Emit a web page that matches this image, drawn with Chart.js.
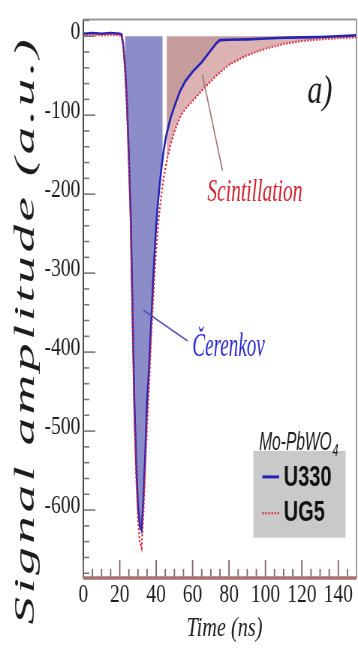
<!DOCTYPE html>
<html>
<head>
<meta charset="utf-8">
<script src="https://cdn.jsdelivr.net/npm/chart.js@4.4.1/dist/chart.umd.min.js"></script>
<style>
  html, body { margin: 0; padding: 0; background: #fff; overflow: hidden; }
  canvas { display: block; }
</style>
</head>
<body>
<!-- drawn on a wider canvas and shown condensed to 358 px -->
<canvas id="c" width="477" height="660" style="width:358px;height:660px"></canvas>
<script>
// Time axis (ns)
const times = [0, 5, 10, 15, 20, 21, 22, 23, 24, 25, 26, 27, 28, 29, 30, 31, 32, 33, 34, 35,
  36, 37, 38, 39, 40, 41, 42, 43, 44, 45, 46, 48, 50, 53, 56, 60, 65, 70, 73, 75,
  80, 90, 100, 110, 120, 130, 140, 150];

// Signal with the U330 filter (a.u.)
const u330 = [3, 4, 3, 4, 3, 2, -12, -42, -88, -152, -226, -345, -462, -540, -595, -620, -626, -585, -530, -463,
  -425, -376, -327, -280, -240, -210, -186, -165, -147, -132, -121, -103, -89, -70, -57, -45, -33, -18, -9, -5,
  -4.5, -4, -3, -2, -1.5, -1, 0, 1];

// Signal with the UG5 filter (a.u.)
const ug5 = [1, 2, 1, 2, 1, 0, -14, -45, -92, -158, -236, -356, -478, -558, -612, -640, -648, -606, -551, -496,
  -452, -396, -348, -307, -270, -240, -218, -198, -181, -168, -156, -136, -121, -103, -92, -82, -69, -57, -50, -46,
  -36, -24, -16, -10, -6, -4, -2.5, -1.5];

// Tick labels
const xTicks = [0, 20, 40, 60, 80, 100, 120, 140];
const yTicks = [0, -100, -200, -300, -400, -500, -600];

// Integration windows (ns)
const cerenkovWindow = [23, 43.5];
const scintWindow = [45.8, 150];

const SERIF = "'Liberation Serif', 'Times New Roman', serif";
const SANS = "'Liberation Sans', Arial, sans-serif";

function pts(ys) { return times.map((t, i) => ({ x: t, y: ys[i] })); }

function fillBetween(chart, win, upper, lower, color) {
  const ctx = chart.ctx, xs = chart.scales.x, ys = chart.scales.y, a = chart.chartArea;
  const x0 = xs.getPixelForValue(win[0]), x1 = xs.getPixelForValue(win[1]);
  ctx.save();
  ctx.beginPath();
  ctx.rect(x0, a.top, x1 - x0, a.bottom - a.top);
  ctx.clip();
  ctx.beginPath();
  times.forEach((t, i) => {
    const px = xs.getPixelForValue(t), py = ys.getPixelForValue(upper ? upper[i] : 0);
    if (i) ctx.lineTo(px, py); else ctx.moveTo(px, py);
  });
  for (let i = times.length - 1; i >= 0; i--) {
    ctx.lineTo(xs.getPixelForValue(times[i]), ys.getPixelForValue(lower ? lower[i] : 0));
  }
  ctx.closePath();
  ctx.fillStyle = color;
  ctx.fill();
  ctx.restore();
}

function text(ctx, s, x, y, font, color, sx, align) {
  ctx.save();
  ctx.translate(x, y);
  ctx.scale(sx, 1);
  ctx.font = font;
  ctx.fillStyle = color;
  ctx.textAlign = align || 'left';
  ctx.textBaseline = 'alphabetic';
  ctx.fillText(s, 0, 0);
  ctx.restore();
}

function line(ctx, x0, y0, x1, y1, color, w, dash) {
  ctx.save();
  ctx.beginPath();
  ctx.moveTo(x0, y0);
  ctx.lineTo(x1, y1);
  ctx.strokeStyle = color;
  ctx.lineWidth = w;
  ctx.setLineDash(dash || []);
  ctx.stroke();
  ctx.restore();
}

const areas = {
  id: 'areas',
  beforeDatasetsDraw(chart) {
    fillBetween(chart, cerenkovWindow, null, u330, 'rgb(140,140,200)');
    fillBetween(chart, scintWindow, null, u330, 'rgb(198,155,155)');
    fillBetween(chart, scintWindow, u330, ug5, 'rgb(220,178,178)');
  }
};

const frame = {
  id: 'frame',
  afterDatasetsDraw(chart) {
    const ctx = chart.ctx, a = chart.chartArea, xs = chart.scales.x, ys = chart.scales.y;
    // box
    line(ctx, a.left, a.top, a.right, a.top, '#9a9a9a', 2);
    line(ctx, a.right, a.top, a.right, a.bottom, '#9a9a9a', 2);
    line(ctx, a.left, a.top, a.left, a.bottom, '#4a4a4a', 2);
    // inner ticks on the amplitude axis
    for (let v = 20; v >= -680; v -= 20) {
      const py = ys.getPixelForValue(v);
      const len = v % 100 === 0 ? 16 : 8;
      line(ctx, a.left, py, a.left + len, py, '#7a7a7a', 1.6);
    }
    // inner ticks on the time axis
    for (let t = 0; t < 150; t += 5) {
      const px = xs.getPixelForValue(t);
      const len = t % 20 === 0 ? 18 : 9;
      line(ctx, px, a.bottom, px, a.bottom - len, '#806565', 1.8);
    }
    line(ctx, a.left, a.bottom, a.right, a.bottom, '#a87070', 3.5);
  },
  afterDraw(chart) {
    const ctx = chart.ctx, a = chart.chartArea, xs = chart.scales.x, ys = chart.scales.y;
    const X = t => xs.getPixelForValue(t), Y = v => ys.getPixelForValue(v);

    // amplitude axis title, rotated, glyphs drawn tall along the axis
    const title = 'Signal amplitude (a.u.)';
    const stretch = 1.45, gap = 3.5;
    ctx.save();
    ctx.font = 'italic 38px ' + SERIF;
    let total = 0;
    for (const ch of title) total += ctx.measureText(ch).width * stretch;
    total += gap * (title.length - 1);
    ctx.translate(45, 332);
    ctx.rotate(-Math.PI / 2);
    ctx.fillStyle = '#1c1c1c';
    ctx.textBaseline = 'alphabetic';
    let cx = -total / 2;
    for (const ch of title) {
      ctx.save();
      ctx.translate(cx, 0);
      ctx.scale(stretch, 1);
      ctx.fillText(ch, 0, 0);
      ctx.restore();
      cx += ctx.measureText(ch).width * stretch + gap;
    }
    ctx.restore();

    // time axis title
    text(ctx, 'Time (ns)', (a.left + a.right) / 2 + 6, 636, 'italic 27px ' + SERIF, '#1c1c1c', 1, 'center');

    // panel tag
    text(ctx, 'a)', X(123), Y(-85), 'italic 40px ' + SERIF, '#1c1c1c', 1);

    // pointers and labels for the two components
    line(ctx, X(65.4), Y(-49), X(76.4), Y(-170), '#a07272', 1.6);
    text(ctx, 'Scintillation', X(68.1), Y(-209), 'italic 32px ' + SERIF, '#d0202e', 0.81);
    line(ctx, X(33), Y(-347), X(57.3), Y(-386), '#5050c0', 1.6);
    text(ctx, '\u010Cerenkov', X(59.9), Y(-405), 'italic 33px ' + SERIF, '#2a2ad0', 0.77);

    // legend
    const bx0 = X(93.4), bx1 = X(144), by0 = Y(-525), by1 = Y(-635);
    ctx.fillStyle = '#c9c9c9';
    ctx.fillRect(bx0, by0, bx1 - bx0, by1 - by0);
    text(ctx, 'Mo-PbWO', X(96.5), Y(-524), 'italic 25px ' + SANS, '#1c1c1c', 0.83);
    ctx.save();
    ctx.font = 'italic 25px ' + SANS;
    const w = ctx.measureText('Mo-PbWO').width * 0.83;
    ctx.restore();
    text(ctx, '4', X(96.5) + w + 1, Y(-524) + 6, 'italic 17px ' + SANS, '#1c1c1c', 0.83);
    line(ctx, X(98.3), Y(-558), X(107.5), Y(-558), '#2323b8', 3);
    line(ctx, X(98.3), Y(-604), X(107.5), Y(-604), '#d8283a', 2.2, [2, 2]);
    text(ctx, 'U330', X(110), Y(-570), 'bold 29px ' + SANS, '#111', 0.92);
    text(ctx, 'UG5', X(110), Y(-614), 'bold 29px ' + SANS, '#111', 0.92);
  }
};

new Chart(document.getElementById('c'), {
  type: 'line',
  data: {
    datasets: [
      {
        label: 'UG5',
        data: pts(ug5),
        borderColor: '#d8283a',
        borderWidth: 2.2,
        borderDash: [2, 2],
        pointRadius: 0,
        tension: 0,
        fill: false
      },
      {
        label: 'U330',
        data: pts(u330),
        borderColor: '#2323b8',
        borderWidth: 2.6,
        pointRadius: 0,
        tension: 0,
        fill: false
      }
    ]
  },
  options: {
    responsive: false,
    devicePixelRatio: 1,
    animation: false,
    events: [],
    layout: { padding: { top: 12, right: 2, left: 0, bottom: 0 } },
    plugins: { legend: { display: false }, tooltip: { enabled: false }, title: { display: false } },
    scales: {
      x: {
        type: 'linear',
        min: 0,
        max: 150,
        grid: { display: false, drawTicks: false },
        border: { display: false },
        afterBuildTicks: s => { s.ticks = xTicks.map(v => ({ value: v })); },
        afterFit: s => { s.height = 82; },
        ticks: {
          autoSkip: false,
          maxRotation: 0,
          padding: 2,
          color: '#1e1e1e',
          font: { family: SERIF, size: 26 },
          callback: v => String(v)
        }
      },
      y: {
        type: 'linear',
        min: -686,
        max: 21,
        grid: { display: false, drawTicks: false },
        border: { display: false },
        afterBuildTicks: s => { s.ticks = yTicks.map(v => ({ value: v })); },
        afterFit: s => { s.width = 111; },
        ticks: {
          autoSkip: false,
          padding: 4,
          labelOffset: -4,
          color: '#1e1e1e',
          font: { family: SERIF, size: 26 },
          callback: v => String(v)
        }
      }
    }
  },
  plugins: [areas, frame]
});
</script>
</body>
</html>
